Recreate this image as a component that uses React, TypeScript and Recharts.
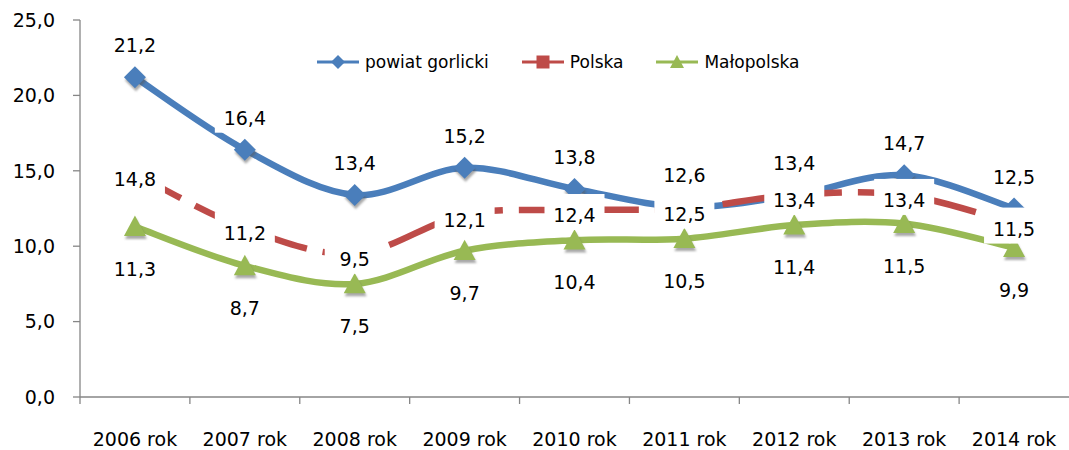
import React from 'react';
import { LineChart, Line, XAxis, YAxis, Legend, LabelList } from 'recharts';

const categories = ['2006 rok', '2007 rok', '2008 rok', '2009 rok', '2010 rok', '2011 rok', '2012 rok', '2013 rok', '2014 rok'];
const powiat = [21.2, 16.4, 13.4, 15.2, 13.8, 12.6, 13.4, 14.7, 12.5];
const polska = [14.8, 11.2, 9.5, 12.1, 12.4, 12.5, 13.4, 13.4, 11.5];
const malopolska = [11.3, 8.7, 7.5, 9.7, 10.4, 10.5, 11.4, 11.5, 9.9];
const yTicks = [0, 5, 10, 15, 20, 25];

const series = [
  { key: 'powiat', name: 'powiat gorlicki', color: '#4a7ebb', shape: 'diamond' },
  { key: 'polska', name: 'Polska', color: '#be4b48', shape: 'square' },
  { key: 'malopolska', name: 'Małopolska', color: '#98b954', shape: 'triangle' },
];

const data = categories.map((year, i) => ({
  year,
  powiat: powiat[i],
  polska: polska[i],
  malopolska: malopolska[i],
}));

const FONT = '"DejaVu Sans", sans-serif';
const AXIS = '#868686';
const X_MARGIN = 36;
const HALF_BAND = 989 / 18;

const fmt = (v: number) => v.toFixed(1).replace('.', ',');

// Excel-like smoothing (Catmull-Rom through the points)
const smooth = (context: any) => {
  let pts: number[][] = [];
  return {
    areaStart() {},
    areaEnd() {},
    lineStart() {
      pts = [];
    },
    point(x: number, y: number) {
      pts.push([+x, +y]);
    },
    lineEnd() {
      const n = pts.length;
      if (!n) return;
      context.moveTo(pts[0][0], pts[0][1]);
      for (let i = 0; i < n - 1; i++) {
        const p0 = pts[Math.max(i - 1, 0)];
        const p1 = pts[i];
        const p2 = pts[i + 1];
        const p3 = pts[Math.min(i + 2, n - 1)];
        context.bezierCurveTo(
          p1[0] + (p2[0] - p0[0]) / 6,
          p1[1] + (p2[1] - p0[1]) / 6,
          p2[0] - (p3[0] - p1[0]) / 6,
          p2[1] - (p3[1] - p1[1]) / 6,
          p2[0],
          p2[1]
        );
      }
    },
  };
};

const shapePath = (shape: string, cx: number, cy: number, s: number) => {
  if (shape === 'diamond') return `M${cx},${cy - s}L${cx + s},${cy}L${cx},${cy + s}L${cx - s},${cy}Z`;
  if (shape === 'triangle') return `M${cx},${cy - s}L${cx + s},${cy + s * 0.85}L${cx - s},${cy + s * 0.85}Z`;
  const h = s * 0.65;
  return `M${cx - h},${cy - h}L${cx + h},${cy - h}L${cx + h},${cy + h}L${cx - h},${cy + h}Z`;
};

const makeDot = (shape: string, color: string, size: number) => (props: any) => {
  const { cx, cy, index } = props;
  if (cx == null || cy == null) return <g key={index} />;
  return (
    <g key={`${shape}-${index}`}>
      {index === 0 && shape === 'diamond' && (
        <defs>
          <filter id="mshadow" x="-50%" y="-50%" width="200%" height="200%">
            <feGaussianBlur stdDeviation="1.3" />
          </filter>
        </defs>
      )}
      <path d={shapePath(shape, cx + 1, cy + 3, size)} fill="#555" opacity={0.5} filter="url(#mshadow)" />
      <path d={shapePath(shape, cx, cy, size)} fill={color} />
    </g>
  );
};

const makeLabel = (dy: number) => (props: any) => {
  const { x, y, value, index } = props;
  if (x == null || y == null) return null;
  const ty = y + dy;
  return (
    <g key={index}>
      <rect x={x - 30} y={ty - 21} width={60} height={36} fill="#fff" />
      <text x={x} y={ty} textAnchor="middle" dominantBaseline="central" fontFamily={FONT} fontSize={19} fill="#000">
        {fmt(value)}
      </text>
    </g>
  );
};

const XTick = (props: any) => {
  const { x, y, payload } = props;
  const axisY = y - X_MARGIN;
  return (
    <g>
      <line x1={x - HALF_BAND} x2={x - HALF_BAND} y1={axisY} y2={axisY + 7} stroke={AXIS} strokeWidth={1.3} />
      <text x={x} y={y} dy="0.71em" textAnchor="middle" fontFamily={FONT} fontSize={19} fill="#000">
        {payload.value}
      </text>
    </g>
  );
};

const LegendIcon = ({ shape, color }: { shape: string; color: string }) => (
  <svg width={42} height={20} style={{ display: 'block' }}>
    <line x1={0} x2={42} y1={10} y2={10} stroke={color} strokeWidth={3} />
    <path d={shapePath(shape, 21, 10, shape === 'square' ? 10 : 7)} fill={color} />
  </svg>
);

const renderLegend = () => (
  <div style={{ display: 'flex', alignItems: 'center', fontFamily: FONT, fontSize: 17, color: '#000' }}>
    {series.map((s) => (
      <div key={s.key} style={{ display: 'flex', alignItems: 'center', marginRight: 33 }}>
        <LegendIcon shape={s.shape} color={s.color} />
        <span style={{ marginLeft: 6, lineHeight: '20px' }}>{s.name}</span>
      </div>
    ))}
  </div>
);

const labelOffsets: Record<string, number> = { powiat: -32, polska: 5, malopolska: 42 };

export default function App() {
  return (
    <div style={{ position: 'absolute', left: 0, top: 0, background: '#fff' }}>
      <LineChart width={1069} height={450} data={data} margin={{ top: 20, right: 0, bottom: 0, left: 0 }}>
        <XAxis
          dataKey="year"
          height={53}
          padding={{ left: HALF_BAND, right: HALF_BAND }}
          axisLine={{ stroke: AXIS, strokeWidth: 1.3 }}
          tickLine={false}
          tickSize={0}
          tickMargin={X_MARGIN}
          interval={0}
          tick={<XTick />}
        />
        <YAxis
          width={80}
          domain={[0, 25]}
          ticks={yTicks}
          tickFormatter={fmt}
          axisLine={{ stroke: AXIS, strokeWidth: 1.3 }}
          tickLine={{ stroke: AXIS, strokeWidth: 1.3 }}
          tickSize={7}
          tickMargin={18}
          tick={{ fill: '#000', fontSize: 19, fontFamily: FONT }}
        />
        <Legend
          layout="horizontal"
          verticalAlign="middle"
          align="center"
          wrapperStyle={{ top: 52, left: 317, width: 760 }}
          content={renderLegend}
        />
        {series.map((s) => (
          <Line
            key={s.key}
            dataKey={s.key}
            name={s.name}
            type={smooth as any}
            stroke={s.color}
            strokeWidth={6.5}
            strokeDasharray={s.key === 'polska' ? '52 16' : undefined}
            dot={makeDot(s.shape, s.color, 11)}
            activeDot={false}
            isAnimationActive={false}
          />
        ))}
        {series.map((s) => (
          <Line
            key={`${s.key}-labels`}
            dataKey={s.key}
            stroke="none"
            dot={false}
            activeDot={false}
            legendType="none"
            isAnimationActive={false}
          >
            <LabelList dataKey={s.key} content={makeLabel(labelOffsets[s.key])} />
          </Line>
        ))}
      </LineChart>
    </div>
  );
}
